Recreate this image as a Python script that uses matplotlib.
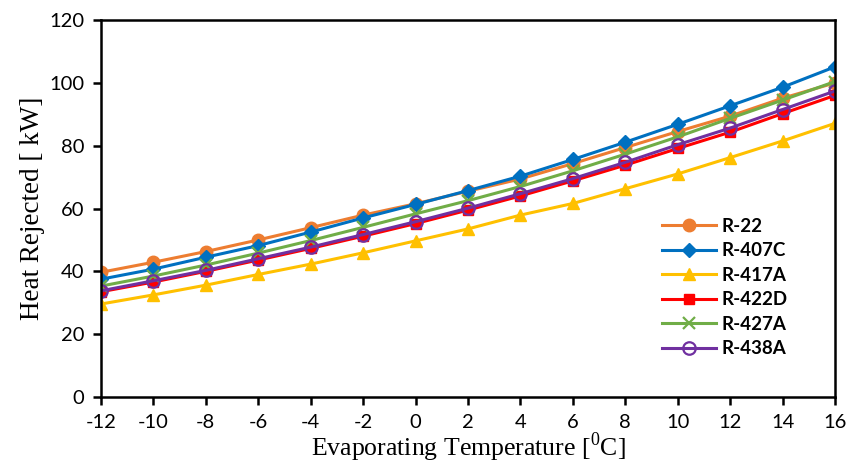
import matplotlib
matplotlib.use("Agg")
import matplotlib.pyplot as plt

plt.rcParams["axes.unicode_minus"] = False
plt.rcParams["mathtext.fontset"] = "custom"
plt.rcParams["mathtext.rm"] = "Liberation Serif"

# evaporating temperature, degC
temps = [-12, -10, -8, -6, -4, -2, 0, 2, 4, 6, 8, 10, 12, 14, 16]

# heat rejected, kW
r22 = [39.7, 42.9, 46.3, 50.0, 53.9, 57.9, 61.5, 65.5, 69.4, 74.3, 79.4, 84.5, 89.4, 95.1, 100.0]
r407c = [37.5, 40.7, 44.5, 48.2, 52.5, 57.0, 61.3, 65.7, 70.3, 75.6, 81.1, 86.8, 92.7, 98.6, 105.1]
r417a = [29.6, 32.5, 35.6, 39.0, 42.3, 45.9, 49.7, 53.5, 57.9, 61.6, 66.3, 71.0, 76.2, 81.5, 87.1]
r422d = [33.5, 36.6, 40.0, 43.6, 47.3, 51.2, 55.2, 59.5, 64.0, 68.8, 73.8, 79.1, 84.3, 90.2, 96.0]
r427a = [35.3, 38.5, 42.0, 45.8, 49.8, 54.0, 58.3, 62.5, 67.0, 72.0, 77.3, 82.8, 88.7, 94.5, 100.4]
r438a = [33.8, 37.0, 40.3, 44.0, 47.7, 51.7, 55.8, 60.1, 64.7, 69.5, 74.7, 80.3, 85.6, 91.5, 97.4]

series = [
    ("R-22", r22, "#ED7D31", "o", {}),
    ("R-407C", r407c, "#0070C0", "D", {"markersize": 7}),
    ("R-417A", r417a, "#FFC000", "^", {}),
    ("R-422D", r422d, "#FF0000", "s", {"markersize": 7}),
    ("R-427A", r427a, "#70AD47", "x", {"markeredgewidth": 1.6}),
    ("R-438A", r438a, "#7030A0", "o", {"markerfacecolor": "none", "markeredgewidth": 1.6}),
]

fig = plt.figure(figsize=(8.51, 4.68), dpi=100)
ax = fig.add_axes([101 / 851, 71 / 468, 734 / 851, 377 / 468])

for name, vals, col, mk, extra in series:
    kw = dict(color=col, marker=mk, markersize=9, linewidth=2.2, label=name)
    kw.update(extra)
    ax.plot(temps, vals, **kw)

ax.set_xlim(-12, 16)
ax.set_ylim(0, 120)
ax.set_xticks(range(-12, 17, 2))
ax.set_yticks(range(0, 121, 20))

for s in ax.spines.values():
    s.set_linewidth(1.8)
ax.tick_params(direction="out", length=6, width=1.8, labelsize=14.5, pad=6)
for lab in ax.get_xticklabels() + ax.get_yticklabels():
    lab.set_family("Lato")

ax.set_xlabel("Evaporating Temperature [$^{0}$C]", family="Liberation Serif", fontsize=18.5, labelpad=0)
ax.set_ylabel("Heat Rejected [ kW]", family="Liberation Serif", fontsize=19.5, labelpad=3)

ax.legend(loc="lower left", bbox_to_anchor=(0.764, 0.105), frameon=False,
          borderpad=0, borderaxespad=0,
          prop={"family": "Lato", "weight": "bold", "size": 13.5},
          handlelength=2.9, labelspacing=0.4, handletextpad=0.3)

fig.savefig("out.png", dpi=100)
